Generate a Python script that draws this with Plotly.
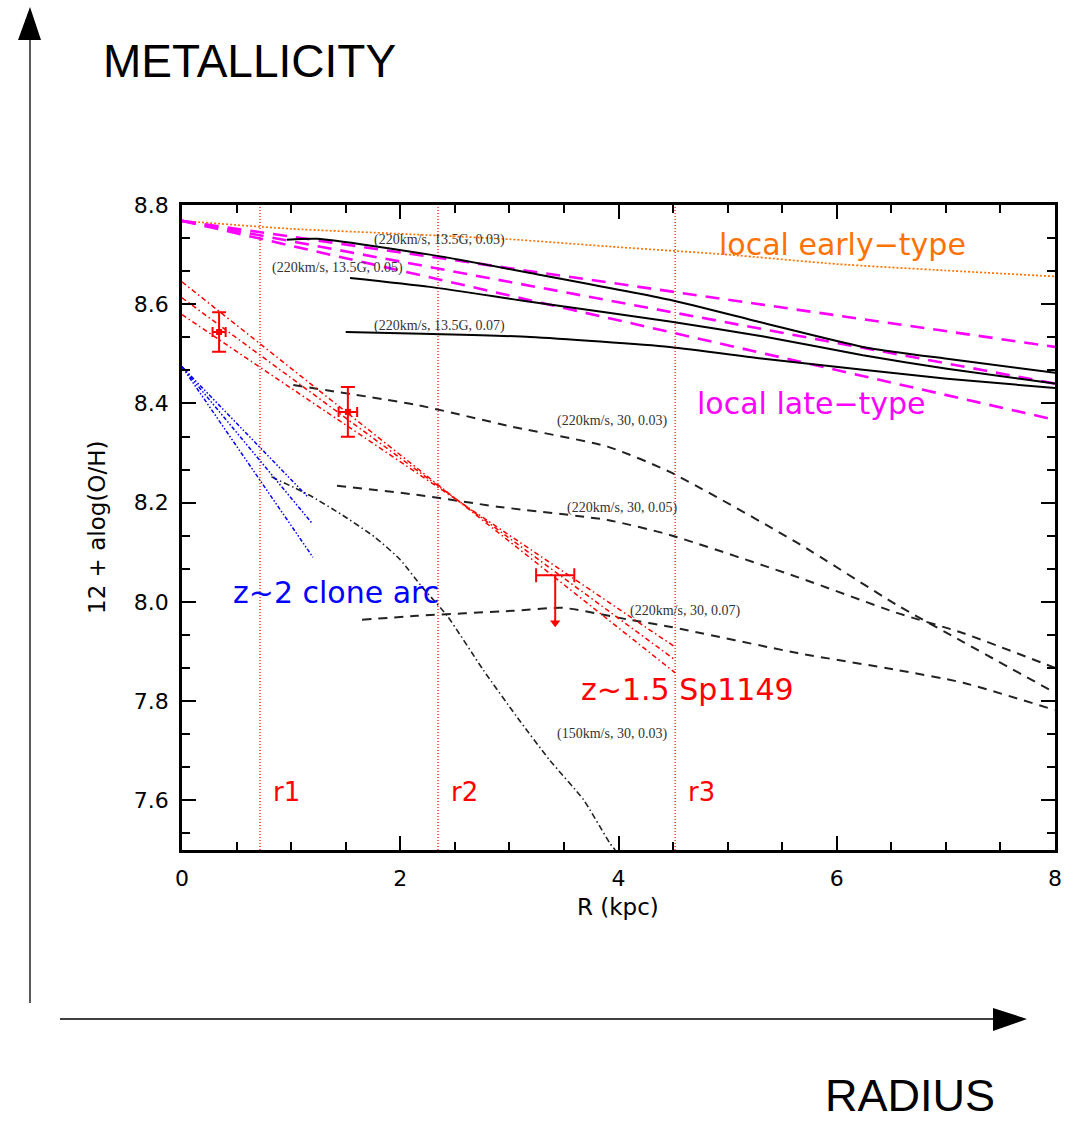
import plotly.graph_objects as go

# ---------------- data ----------------
# local early-type gradient (orange dotted)
R_EARLY = [0.0, 1.0, 2.0, 3.0, 4.0, 5.0, 6.0, 7.0, 8.0]
Z_EARLY = [8.768, 8.752, 8.742, 8.731, 8.715, 8.700, 8.681, 8.668, 8.656]

# local late-type gradients (magenta dashed)
R_LATE = [0.0, 8.0]
Z_LATE_1 = [8.768, 8.514]
Z_LATE_2 = [8.768, 8.440]
Z_LATE_3 = [8.768, 8.367]

# models (220km/s, 13.5G, k) - solid black
R_M135_03 = [0.96, 1.24, 2.27, 3.19, 4.47, 5.33, 6.24, 7.01, 8.0]
Z_M135_03 = [8.730, 8.732, 8.700, 8.663, 8.609, 8.562, 8.514, 8.490, 8.462]
R_M135_05 = [1.54, 2.27, 3.19, 4.47, 5.33, 6.24, 7.01, 8.0]
Z_M135_05 = [8.653, 8.635, 8.605, 8.565, 8.535, 8.497, 8.470, 8.440]
R_M135_07 = [1.50, 2.30, 3.19, 4.47, 5.33, 6.24, 7.01, 8.0]
Z_M135_07 = [8.544, 8.540, 8.534, 8.514, 8.490, 8.468, 8.450, 8.431]

# models (220km/s, 30, k) - dashed black
R_M30_03 = [1.02, 2.15, 3.03, 3.90, 4.47, 5.64, 6.55, 7.16, 8.0]
Z_M30_03 = [8.437, 8.397, 8.353, 8.313, 8.262, 8.119, 7.994, 7.919, 7.817]
R_M30_05 = [1.42, 2.15, 2.89, 3.90, 4.47, 5.64, 6.55, 7.16, 8.0]
Z_M30_05 = [8.234, 8.216, 8.192, 8.165, 8.135, 8.050, 7.978, 7.937, 7.867]
R_M30_07 = [1.65, 2.15, 3.03, 3.49, 4.10, 4.47, 5.64, 6.55, 7.16, 8.0]
Z_M30_07 = [7.964, 7.972, 7.982, 7.988, 7.964, 7.950, 7.897, 7.863, 7.837, 7.782]

# model (150km/s, 30, 0.03) - dash-dot black
R_M150 = [0.82, 1.16, 1.47, 1.77, 2.00, 2.20, 2.43, 2.76, 3.07, 3.37, 3.68, 3.92, 3.97]
Z_M150 = [8.252, 8.216, 8.175, 8.130, 8.085, 8.030, 7.972, 7.863, 7.768, 7.681, 7.601, 7.514, 7.500]

# z~1.5 Sp1149 gradient fits (red dash-dot)
R_SP = [0.0, 4.52]
Z_SP_1 = [8.645, 7.857]
Z_SP_2 = [8.613, 7.883]
Z_SP_3 = [8.579, 7.909]

# z~1.5 Sp1149 measurements
R_OBS = [0.34, 1.52, 3.42]
Z_OBS = [8.544, 8.383, 8.054]
R_OBS_ERR = [0.06, 0.085, 0.175]
Z_OBS_ERR_UP = [0.04, 0.05, 0.0]
Z_OBS_ERR_DN = [0.04, 0.05, 0.096]
Z_LIMIT_TIP = [7.958]

# z~2 clone arc gradients (blue dash-dot)
R_CLONE_1 = [0.0, 1.16]
Z_CLONE_1 = [8.474, 8.210]
R_CLONE_2 = [0.0, 1.19]
Z_CLONE_2 = [8.474, 8.159]
R_CLONE_3 = [0.0, 1.20]
Z_CLONE_3 = [8.474, 8.090]

# annulus boundaries
R_RINGS = [0.715, 2.346, 4.519]
RING_NAMES = ["r1", "r2", "r3"]

# ---------------- figure ----------------
W, H = 1073, 1124
L, R_, T, B = 182, 18, 205, 274
PW, PH = W - L - R_, H - T - B


def px(x, y):
    """pixel position on the page -> paper coordinates"""
    return (x - L) / PW, (H - B - y) / PH


fig = go.Figure()


def line(x, y, color, width, dash, smooth=False):
    shp = dict(shape="spline", smoothing=0.6) if smooth else {}
    fig.add_trace(go.Scatter(x=x, y=y, mode="lines", showlegend=False, hoverinfo="skip",
                             line=dict(color=color, width=width, dash=dash, **shp)))


ORANGE = "#ff7200"
MAGENTA = "#ff00ff"
RED = "#ff0000"
BLUE = "#0000ff"

for r in R_RINGS:
    line([r, r], [7.5, 8.8], RED, 1.2, "1px,2px")

line(R_EARLY, Z_EARLY, ORANGE, 1.7, "2px,2px", smooth=True)
for z in (Z_LATE_1, Z_LATE_2, Z_LATE_3):
    line(R_LATE, z, MAGENTA, 2.6, "14px,9px")

for rr, zz in ((R_M135_03, Z_M135_03), (R_M135_05, Z_M135_05), (R_M135_07, Z_M135_07)):
    line(rr, zz, "black", 2.0, "solid", smooth=True)
for rr, zz in ((R_M30_03, Z_M30_03), (R_M30_05, Z_M30_05), (R_M30_07, Z_M30_07)):
    line(rr, zz, "#222222", 2.0, "9px,7px", smooth=True)
line(R_M150, Z_M150, "#222222", 1.6, "6px,3px,1.5px,3px", smooth=True)

for z in (Z_SP_1, Z_SP_2, Z_SP_3):
    line(R_SP, z, RED, 1.5, "5px,3px,1.5px,3px")
for rr, zz in ((R_CLONE_1, Z_CLONE_1), (R_CLONE_2, Z_CLONE_2), (R_CLONE_3, Z_CLONE_3)):
    line(rr, zz, BLUE, 1.5, "4px,2px,1.5px,2px,1.5px,2px")

# measurements with error bars
fig.add_trace(go.Scatter(
    x=R_OBS[:2], y=Z_OBS[:2], mode="markers", showlegend=False, hoverinfo="skip",
    marker=dict(symbol="square", size=6, color=RED),
    error_x=dict(type="data", array=R_OBS_ERR[:2], color=RED, thickness=2, width=5),
    error_y=dict(type="data", array=Z_OBS_ERR_UP[:2], arrayminus=Z_OBS_ERR_DN[:2],
                 color=RED, thickness=2, width=7),
))
# outermost point: upper limit
fig.add_trace(go.Scatter(
    x=R_OBS[2:], y=Z_OBS[2:], mode="markers", showlegend=False, hoverinfo="skip",
    marker=dict(symbol="line-ew", size=2, color=RED, line=dict(width=0)),
    error_x=dict(type="data", array=R_OBS_ERR[2:], color=RED, thickness=2, width=7),
    error_y=dict(type="data", array=Z_OBS_ERR_UP[2:], arrayminus=Z_OBS_ERR_DN[2:],
                 color=RED, thickness=2, width=0),
))
fig.add_trace(go.Scatter(
    x=R_OBS[2:], y=Z_LIMIT_TIP, mode="markers", showlegend=False, hoverinfo="skip",
    marker=dict(symbol="triangle-down", size=9, color=RED),
))

# ---------------- text ----------------
ann = []
BIG = "DejaVu Sans"


def text(x, y, s, size, color, xanchor="center", family=BIG):
    ann.append(dict(x=x, y=y, xref="x", yref="y", text=s, showarrow=False,
                    xanchor=xanchor, yanchor="middle",
                    font=dict(family=family, size=size, color=color)))


def page_text(x, y, s, size, family, angle=0):
    xp, yp = px(x, y)
    ann.append(dict(x=xp, y=yp, xref="paper", yref="paper", text=s, showarrow=False,
                    xanchor="center", yanchor="middle", textangle=angle,
                    font=dict(family=family, size=size, color="black")))


text(6.05, 8.72, "local early\u2212type", 30, ORANGE)
text(5.77, 8.40, "local late\u2212type", 30, MAGENTA)
text(1.41, 8.02, "z~2 clone arc", 30, BLUE)
text(4.63, 7.823, "z~1.5 Sp1149", 30, RED)
for r, name in zip(R_RINGS, RING_NAMES):
    text(r + 0.1, 7.617, name, 26, RED, xanchor="left")

SMALL = "Liberation Serif"
LBL = "#333333"
text(1.74, 8.730, "(220km/s, 13.5G, 0.03)", 14, LBL, "left", SMALL)
text(0.81, 8.673, "(220km/s, 13.5G, 0.05)", 14, LBL, "left", SMALL)
text(1.74, 8.556, "(220km/s, 13.5G, 0.07)", 14, LBL, "left", SMALL)
text(3.42, 8.365, "(220km/s, 30, 0.03)", 14, LBL, "left", SMALL)
text(3.51, 8.190, "(220km/s, 30, 0.05)", 14, LBL, "left", SMALL)
text(4.09, 7.982, "(220km/s, 30, 0.07)", 14, LBL, "left", SMALL)
text(3.42, 7.734, "(150km/s, 30, 0.03)", 14, LBL, "left", SMALL)

# axis titles
page_text(97, 528, "12 + alog(O/H)", 23, BIG, angle=-90)
page_text(618, 907, "R (kpc)", 23, BIG)

# outer schematic labels
page_text(249, 61, "METALLICITY", 46, "Liberation Sans")
page_text(910, 1095, "RADIUS", 45, "Liberation Sans")

# outer schematic arrows
shapes = []


def seg(x0, y0, x1, y1):
    a, b = px(x0, y0)
    c, d = px(x1, y1)
    shapes.append(dict(type="line", xref="paper", yref="paper", x0=a, y0=b, x1=c, y1=d,
                       line=dict(color="black", width=1.3)))


def head(*pts):
    pp = [px(x, y) for x, y in pts]
    path = "M " + " L ".join(f"{u} {v}" for u, v in pp) + " Z"
    shapes.append(dict(type="path", xref="paper", yref="paper", path=path,
                       fillcolor="black", line=dict(width=0)))


seg(30, 1003, 30, 38)
head((30, 7), (18, 40), (41, 40))
seg(60, 1019, 995, 1019)
head((1027, 1019), (993, 1008), (993, 1031))

axis_common = dict(showgrid=False, zeroline=False, showline=True, linecolor="black", linewidth=2.5,
                   mirror="allticks", ticks="inside", tickcolor="black", tickwidth=2, ticklen=14,
                   tickfont=dict(family=BIG, size=22, color="black"))

fig.update_layout(
    width=W, height=H,
    margin=dict(l=L, r=R_, t=T, b=B),
    paper_bgcolor="white", plot_bgcolor="white",
    xaxis=dict(range=[0, 8], dtick=2, tick0=0, ticklabelstandoff=7,
               minor=dict(dtick=0.5, ticks="inside", ticklen=8, tickwidth=2, tickcolor="black"),
               **axis_common),
    yaxis=dict(range=[7.5, 8.8], dtick=0.2, tick0=7.6, tickformat=".1f", ticklabelstandoff=6,
               minor=dict(dtick=0.2 / 3, tick0=7.6, ticks="inside", ticklen=8, tickwidth=2,
                          tickcolor="black"),
               **axis_common),
    annotations=ann,
    shapes=shapes,
)

fig.write_html("out.html")
